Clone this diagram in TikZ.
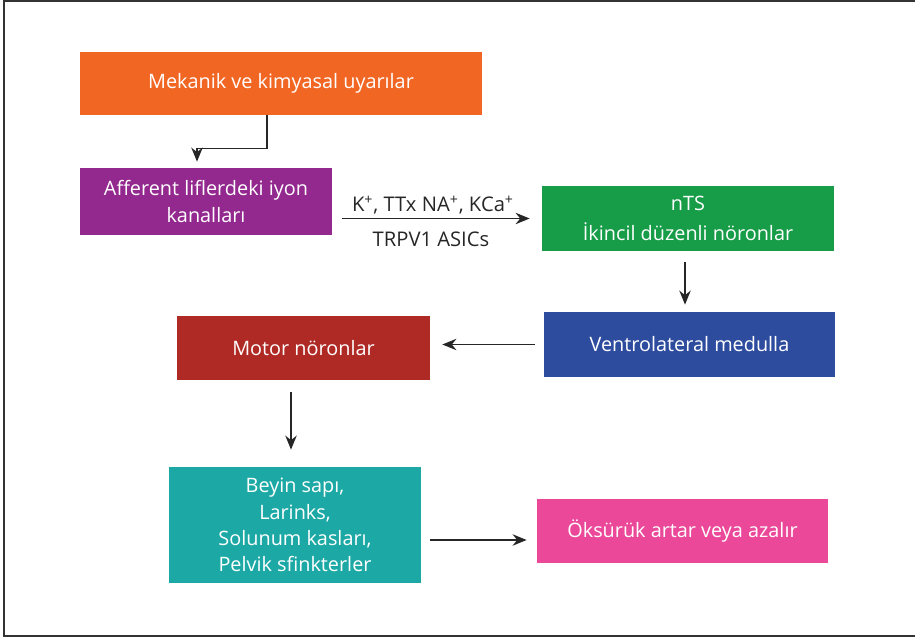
\documentclass[tikz,border=0pt]{standalone}
\usepackage{fontspec}
\setmainfont{Open Sans}
\usetikzlibrary{arrows.meta}
\definecolor{myorange}{HTML}{F26624}
\definecolor{mypurple}{HTML}{93288E}
\definecolor{mygreen}{HTML}{179C48}
\definecolor{myblue}{HTML}{2E4C9E}
\definecolor{myred}{HTML}{B02A25}
\definecolor{myteal}{HTML}{1CA9A5}
\definecolor{mypink}{HTML}{EB489A}

\begin{document}
\begin{tikzpicture}[x=0.02cm, y=-0.02cm,
    box/.style={fill=#1, text=white, align=center, inner sep=0pt,
        font=\fontsize{11.3}{14.6}\selectfont},
    arr/.style={-{Stealth[length=8pt,width=6.5pt]}, line width=0.8pt, black!85}]

    \useasboundingbox (0,0) rectangle (915,638);
    % rahmen
    \draw[black!80, line width=1.1pt] (915,1) -- (4,1) -- (4,636) -- (915,636);

    % kutular
    \node[box=myorange, minimum width=402*0.02cm, minimum height=63*0.02cm] (mech) at (281,83.5) {Mekanik ve kimyasal uyarılar};
    \node[box=mypurple, minimum width=252*0.02cm, minimum height=67*0.02cm] (aff) at (206,201.5) {Afferent liflerdeki iyon\\[1pt]kanalları};
    \node[box=mygreen, minimum width=292*0.02cm, minimum height=65*0.02cm] (nts) at (688,218.5) {nTS\\[2.5pt]İkincil düzenli nöronlar};
    \node[box=myblue, minimum width=291*0.02cm, minimum height=65*0.02cm] (vlm) at (689.5,344.5) {Ventrolateral medulla};
    \node[box=myred, minimum width=253*0.02cm, minimum height=64*0.02cm] (mot) at (303.5,348) {Motor nöronlar};
    \node[box=myteal, minimum width=252*0.02cm, minimum height=116*0.02cm] (beyin) at (295,525) {Beyin sapı,\\[0.4pt]Larinks,\\[0.4pt]Solunum kasları,\\[0.4pt]Pelvik sfinkterler};
    \node[box=mypink, minimum width=291*0.02cm, minimum height=64*0.02cm] (oks) at (682.5,531) {Öksürük artar veya azalır};

    % oklar
    \draw[arr, shorten >=6*0.02cm] ([xshift=-14*0.02cm]mech.south) -- ++(0,33) -| ([xshift=-9*0.02cm]aff.north);
    \draw[arr, shorten <=10*0.02cm, shorten >=12*0.02cm] (aff.east |- nts.west) -- (nts.west)
        node[midway, above=-1.5pt, xshift=-4*0.02cm, font=\fontsize{11.5}{12}\selectfont] (ion) {K\textsuperscript{+}, TTx NA\textsuperscript{+}, KCa\textsuperscript{+}}
        node[midway, below=4pt, xshift=-6*0.02cm, font=\fontsize{11.5}{12}\selectfont] (trp) {TRPV1 ASICs};
    \draw[arr, shorten <=11*0.02cm, shorten >=7*0.02cm] ([xshift=-3*0.02cm]nts.south) -- ([xshift=-4.5*0.02cm]vlm.north);
    \draw[arr, shorten <=9*0.02cm, shorten >=12*0.02cm] (vlm.west) -- (vlm.west -| mot.east);
    \draw[arr, shorten <=12*0.02cm, shorten >=17*0.02cm] ([xshift=-4*0.02cm]beyin.north |- mot.south) -- ([xshift=-4*0.02cm]beyin.north);
    \draw[arr, shorten <=9*0.02cm, shorten >=10*0.02cm] ([yshift=-15*0.02cm]beyin.east) -- ([yshift=-9*0.02cm]oks.west);

\end{tikzpicture}
\end{document}
